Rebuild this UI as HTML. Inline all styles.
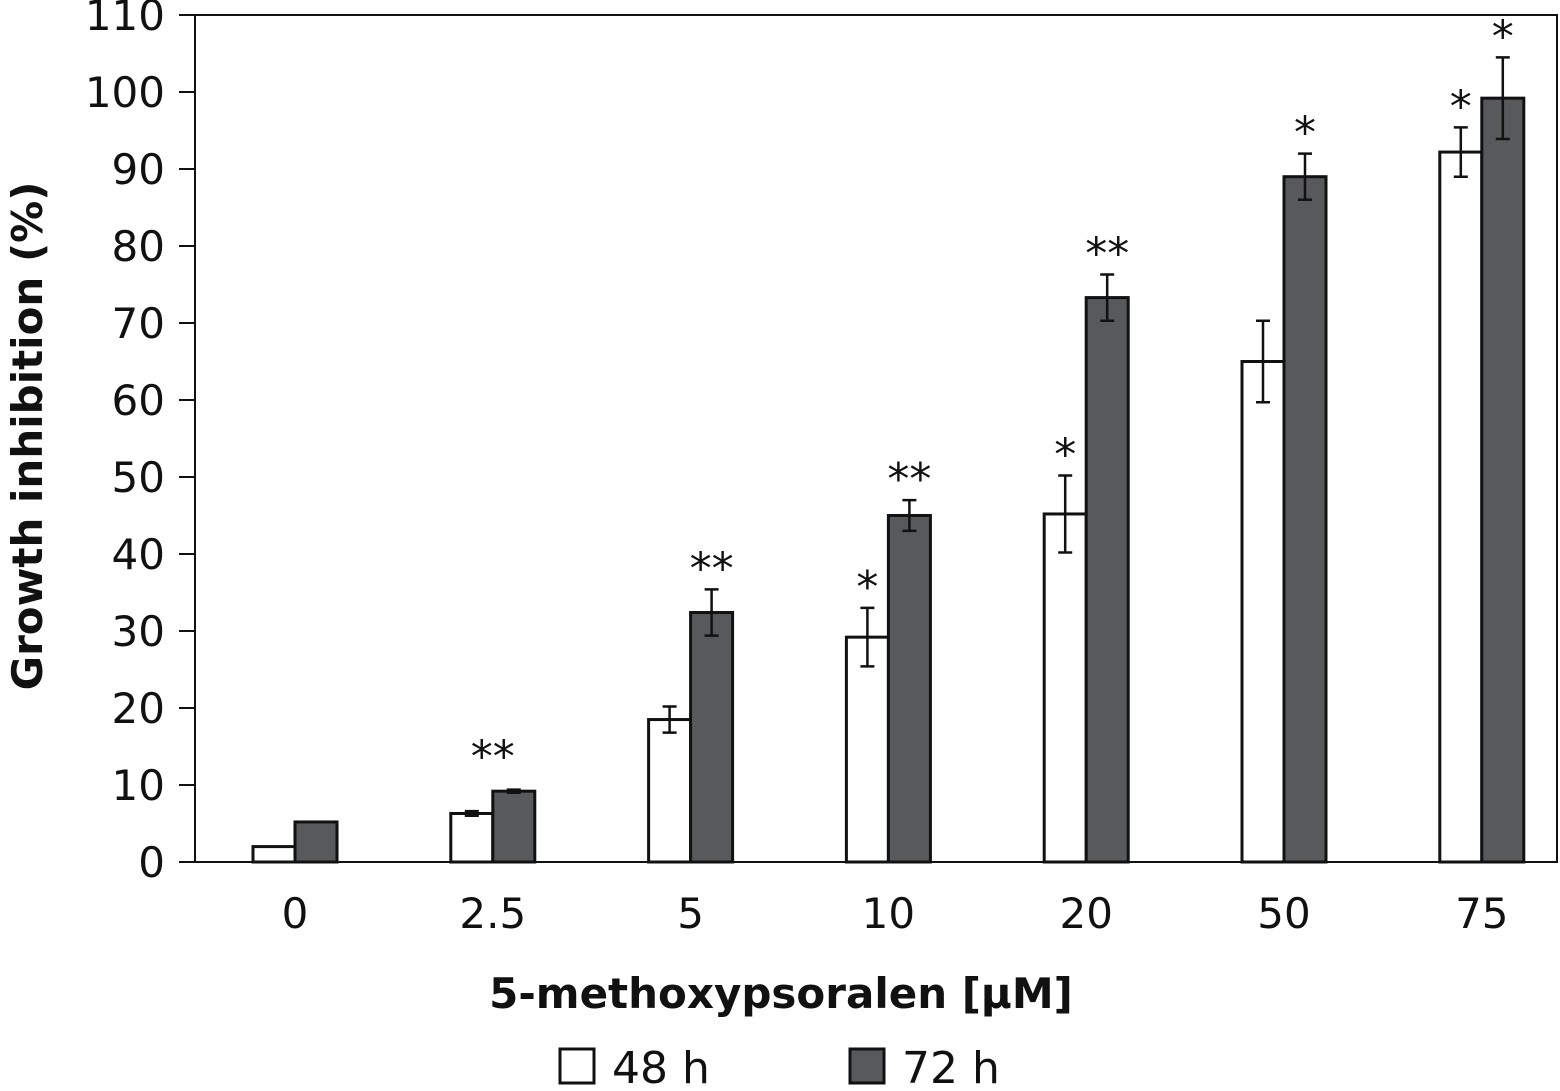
<!DOCTYPE html>
<html><head><meta charset="utf-8"><style>
body{margin:0;background:#fff}
svg text{font-family:"DejaVu Sans","Liberation Sans",sans-serif;fill:#111}
</style></head><body>
<svg width="1560" height="1086" id="c">
<g id="g"></g>
</svg>
<script>
const categories=["0","2.5","5","10","20","50","75"];
const v48=[2,6.3,18.5,29.2,45.2,65,92.2];
const e48=[0,0.3,1.7,3.8,5,5.3,3.2];
const v72=[5.2,9.2,32.4,45,73.3,89,99.2];
const e72=[0,0.2,3.0,2.0,3.0,3.0,5.3];
const sig48=["","","","*","*","","*"];
const sig72=["","**","**","**","**","*","*"];
const yTicks=[0,10,20,30,40,50,60,70,80,90,100,110];
const NS="http://www.w3.org/2000/svg";
const g=document.getElementById('g');
const L=195,R=1557,T=15,B=862;
const y=v=>B-(v/110)*(B-T);
const xc=i=>295+i*197.8;
const bw=42;
function el(t,a,txt){const e=document.createElementNS(NS,t);for(const k in a)e.setAttribute(k,a[k]);if(txt!==undefined)e.textContent=txt;g.appendChild(e);return e;}
let f=el('rect',{x:L,y:T,width:R-L,height:B-T,fill:'none',stroke:'#111','stroke-width':2});

yTicks.forEach(t=>{
 let l=el('line',{x1:179,x2:L,y1:y(t),y2:y(t),stroke:'#111','stroke-width':2});
 
 let tx=el('text',{x:165,y:y(t)+15,'text-anchor':'end','font-size':42},String(t));
 
});
function bar(x,v,e,fill,name){
 let r=el('rect',{x:x,y:y(v),width:bw,height:B-y(v),fill:fill,stroke:'#111','stroke-width':3});
 
 if(e>0){const cx=x+bw/2;
  let w=el('path',{d:`M${cx},${y(v+e)}V${y(v-e)}M${cx-7},${y(v+e)}H${cx+7}M${cx-7},${y(v-e)}H${cx+7}`,stroke:'#111','stroke-width':2.5,fill:'none'});
  }
}
function star(cx,v,e,s){
 if(!s)return;
 let t=el('text',{x:cx,y:y(v+e)-6,'text-anchor':'middle','font-size':44},s);
 
}
categories.forEach((c,i)=>{
 const x=xc(i);
 bar(x-bw,v48[i],e48[i],'#fff','bar-48h-'+c);
 bar(x,v72[i],e72[i],'#58595b','bar-72h-'+c);
 if(i===1){ if(sig72[i]) {let t=el('text',{x:x,y:y(v72[i]+e72[i])-18,'text-anchor':'middle','font-size':44},sig72[i]);} }
 else{ star(x-bw/2,v48[i],e48[i],sig48[i]); star(x+bw/2,v72[i],e72[i],sig72[i]); }
 let t=el('text',{x:x,y:928,'text-anchor':'middle','font-size':42},c);
 
});
let xt=el('text',{x:781,y:1008,'text-anchor':'middle','font-size':42,'font-weight':'bold'},'5-methoxypsoralen [µM]');

let yt=el('text',{x:0,y:0,'text-anchor':'middle','font-size':42,'font-weight':'bold',transform:'translate(42,436) rotate(-90)'},'Growth inhibition (%)');

let b1=el('rect',{x:560,y:1049,width:34,height:34,fill:'#fff',stroke:'#111','stroke-width':3});

let l1=el('text',{x:612,y:1083,'font-size':44},'48 h');

let b2=el('rect',{x:850,y:1049,width:34,height:34,fill:'#58595b',stroke:'#111','stroke-width':3});

let l2=el('text',{x:902,y:1083,'font-size':44},'72 h');

</script>
</body></html>
